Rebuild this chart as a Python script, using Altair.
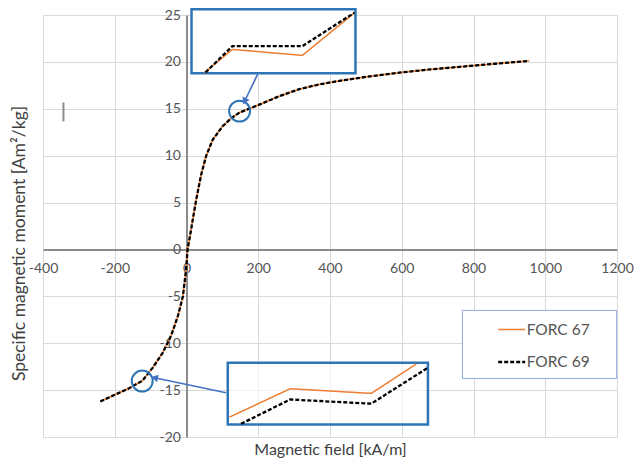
import altair as alt
import pandas as pd

# ---------------- data ----------------
series_names = ["FORC 67", "FORC 69"]
series_colors = ["#ed7d31", "#000000"]

field_kAm = [-240, -200, -160, -123, -94, -66, -43, -24, -10, -1, 3, 10, 18, 27, 41, 55, 73,
             101, 125, 148, 194, 259, 315, 370, 430, 500, 593, 680, 770, 860, 955]
moment_forc67 = [-16.2, -15.5, -14.8, -14.0, -12.6, -11.0, -9.2, -7.1, -5.0, -2.1, 0.0, 1.5,
                 3.3, 5.3, 8.0, 10.0, 11.7, 13.15, 14.0, 14.6, 15.3, 16.35, 17.1, 17.6, 18.0,
                 18.4, 18.85, 19.2, 19.5, 19.8, 20.1]
moment_forc69 = [-16.2, -15.5, -14.8, -14.0, -12.6, -11.0, -9.2, -7.1, -5.0, -2.1, 0.0, 1.5,
                 3.3, 5.3, 8.0, 10.0, 11.7, 13.15, 14.0, 14.6, 15.3, 16.35, 17.1, 17.6, 18.0,
                 18.4, 18.85, 19.2, 19.5, 19.8, 20.1]

# magnified views (drawn in the main axes' units)
top_inset_x67 = [50, 128, 323, 466]
top_inset_y67 = [18.87, 21.33, 20.69, 25.16]
top_inset_x69 = [53, 128, 323, 468]
top_inset_y69 = [18.87, 21.68, 21.68, 25.24]
bot_inset_x67 = [120, 289, 515, 641]
bot_inset_y67 = [-17.88, -14.85, -15.35, -12.2]
bot_inset_x69 = [152, 289, 515, 673]
bot_inset_y69 = [-18.59, -16.0, -16.45, -12.61]

# annotation boxes: x0, x1, y0, y1
box_x0 = [14, 115]
box_x1 = [471, 673]
box_y0 = [25.6, -12.08]
box_y1 = [18.8, -18.66]
box_fill_opacity = [1.0, 0.6]
legend_box = [769, 1199, -6.5, -13.76]

circle_x = [148, -123.5]
circle_y = [14.75, -14.04]

arrow_x0 = [198, 110]
arrow_y0 = [18.66, -15.28]
arrow_x1 = [162, -89]
arrow_y1 = [15.8, -13.68]
arrow_angle = [206, 282]

cursor_mark = [-343, 15.67, 13.65]

x_ticks = [-400, -200, 0, 200, 400, 600, 800, 1000, 1200]
y_ticks = [-20, -15, -10, -5, 0, 5, 10, 15, 20, 25]

FONT = "Lato"
BLUE = "#2e75b6"

# ---------------- tables ----------------
n = len(field_kAm)
main_df = pd.DataFrame({
    "H": field_kAm + field_kAm,
    "M": moment_forc67 + moment_forc69,
    "series": [series_names[0]] * n + [series_names[1]] * n,
})
inset_rows = []
for g, (xs, ys, s) in enumerate([
    (top_inset_x67, top_inset_y67, series_names[0]),
    (top_inset_x69, top_inset_y69, series_names[1]),
    (bot_inset_x67, bot_inset_y67, series_names[0]),
    (bot_inset_x69, bot_inset_y69, series_names[1]),
]):
    for i, (xv, yv) in enumerate(zip(xs, ys)):
        inset_rows.append({"H": xv, "M": yv, "series": s, "grp": g, "i": i})
inset_df = pd.DataFrame(inset_rows)

box_df = pd.DataFrame({"H": box_x0, "x1": box_x1, "M": box_y0, "y1": box_y1,
                       "op": box_fill_opacity})
legbox_df = pd.DataFrame({"H": [legend_box[0]], "x1": [legend_box[1]],
                          "M": [legend_box[2]], "y1": [legend_box[3]]})
circle_df = pd.DataFrame({"H": circle_x, "M": circle_y})
arrow_df = pd.DataFrame({"H": arrow_x0, "M": arrow_y0, "x1": arrow_x1, "y1": arrow_y1,
                         "ang": arrow_angle})
cursor_df = pd.DataFrame({"H": [cursor_mark[0]], "M": [cursor_mark[1]], "y1": [cursor_mark[2]]})

# ---------------- scales / axes ----------------
xscale = alt.Scale(domain=[-400, 1200], nice=False, zero=False)
yscale = alt.Scale(domain=[-20, 25], nice=False, zero=False)

x_axis = alt.Axis(
    values=x_ticks, offset=-187.6, ticks=False, labelPadding=12,
    labelExpr="'' + datum.value",
    domainColor="#8c8c8c", domainWidth=2, grid=True, gridColor="#d9d9d9", gridWidth=1,
    labelFont=FONT, labelFontSize=14, labelColor="#555555", labelFlush=False,
    labelOverlap=False, title="Magnetic field [kA/m]", titleFont=FONT, titleFontSize=16,
    titleFontWeight="normal", titleColor="#404040", titleY=200, titleBaseline="middle",
)
y_axis = alt.Axis(
    values=y_ticks, offset=-143.5, ticks=False, labelPadding=6,
    labelExpr="'' + datum.value",
    domainColor="#8c8c8c", domainWidth=2, grid=True, gridColor="#d9d9d9", gridWidth=1,
    labelFont=FONT, labelFontSize=14, labelColor="#555555", labelFlush=False,
    labelOverlap=False, title="Specific magnetic moment [Am²/kg]", titleFont=FONT,
    titleFontSize=17.5, titleFontWeight="normal", titleColor="#404040",
    titleX=-167, titleY=228, titleAngle=-90, titleBaseline="middle",
)


def X():
    return alt.X("H:Q", scale=xscale, axis=x_axis)


def Y():
    return alt.Y("M:Q", scale=yscale, axis=y_axis)


legend = alt.Legend(
    title=None, orient="none", legendX=453.7, legendY=300, symbolType="stroke",
    symbolSize=729, symbolStrokeWidth=1.8, labelFont=FONT, labelFontSize=15.5,
    labelColor="#555555", labelOffset=0, rowPadding=9, padding=0,
)
color_enc = alt.Color("series:N", scale=alt.Scale(domain=series_names, range=series_colors),
                      legend=legend)
dash_enc = alt.StrokeDash("series:N", scale=alt.Scale(domain=series_names,
                                                      range=[[1, 0], [4, 2]]), legend=legend)
width_enc = alt.StrokeWidth("series:N", scale=alt.Scale(domain=series_names, range=[1.5, 2.3]),
                            legend=None)

# ---------------- layers ----------------
lines = alt.Chart(main_df).mark_line().encode(
    x=X(), y=Y(),
    color=color_enc, strokeDash=dash_enc, strokeWidth=width_enc,
    order=alt.Order("H:Q"),
)

cursor = alt.Chart(cursor_df).mark_rule(color="#8c8c8c", strokeWidth=2).encode(
    x=X(), y=Y(), y2="y1:Q")

boxes = alt.Chart(box_df).mark_rect(stroke=BLUE, strokeWidth=2.5, fill="white").encode(
    x=X(), x2="x1:Q", y=Y(), y2="y1:Q",
    fillOpacity=alt.FillOpacity("op:Q", scale=None),
)

inset_lines = alt.Chart(inset_df).mark_line().encode(
    x=X(), y=Y(),
    color=color_enc, strokeDash=dash_enc, strokeWidth=width_enc,
    detail="grp:N", order=alt.Order("i:Q"),
)

legbox = alt.Chart(legbox_df).mark_rect(stroke="#8faadc", strokeWidth=1, fill="white").encode(
    x=X(), x2="x1:Q", y=Y(), y2="y1:Q")

circles = alt.Chart(circle_df).mark_point(shape="circle", size=440, filled=False,
                                          color=BLUE, strokeWidth=2, opacity=1).encode(
    x=X(), y=Y())

arrows = alt.Chart(arrow_df).mark_rule(color="#4472c4", strokeWidth=1.6).encode(
    x=X(), y=Y(), x2="x1:Q", y2="y1:Q")

heads = alt.Chart(arrow_df).mark_point(shape="triangle-up", size=60, filled=True,
                                       color="#4472c4", opacity=1).encode(
    x=alt.X("x1:Q", scale=xscale, axis=x_axis), y=alt.Y("y1:Q", scale=yscale, axis=y_axis),
    angle=alt.Angle("ang:Q", scale=None))

chart = alt.layer(lines, cursor, boxes, inset_lines, legbox, circles, arrows, heads).properties(
    width=574, height=422,
    autosize=alt.AutoSizeParams(type="none"),
    padding={"left": 43, "top": 15, "right": 17, "bottom": 25},
    background="white",
).configure_view(stroke=None)

chart.save("out.html", embed_options={"renderer": "svg", "actions": False})
